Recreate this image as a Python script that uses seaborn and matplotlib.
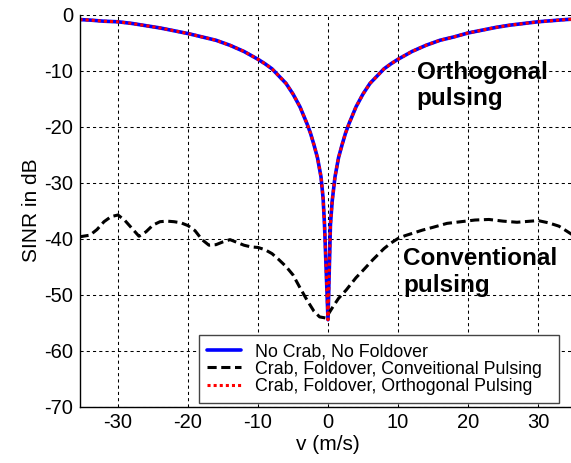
import matplotlib
matplotlib.use("Agg")
import matplotlib.pyplot as plt
import seaborn as sns
import pandas as pd

# ---- data ----
v_orth = [-35.5, -34, -32, -30, -28, -26, -24, -22, -20, -18, -16, -14, -12, -10, -9, -8, -7, -6, -5,
          -4, -3, -2.5, -2, -1.5, -1.0, -0.7, -0.5, 0, 0.35, 0.6, 1.0, 1.5, 2, 2.5, 3, 4, 5, 6, 7, 8, 9,
          10, 12, 14, 16, 18, 20, 22, 24, 26, 28, 30, 32, 34, 35.5]
sinr_orth = [-0.9, -1.0, -1.2, -1.3, -1.6, -2.0, -2.4, -2.9, -3.4, -4.0, -4.6, -5.5, -6.6, -8.0, -8.8,
             -9.7, -11.0, -12.3, -14.2, -16.5, -19.5, -21.2, -23.3, -25.6, -29.0, -32.8, -37.5, -54.5,
             -37.5, -33.3, -29.0, -25.6, -23.3, -21.2, -19.5, -16.5, -14.2, -12.3, -11.0, -9.7, -8.8,
             -8.0, -6.6, -5.5, -4.6, -4.0, -3.3, -2.8, -2.3, -1.9, -1.6, -1.3, -1.1, -0.9, -0.8]

v_conv = [-35.5, -34, -33, -32, -31, -30, -29, -28, -27, -26, -25, -24, -23, -22, -21, -20, -19, -18,
          -17, -16, -15, -14, -13, -12, -11, -10, -9, -8, -7, -6, -5, -4, -3, -2, -1.2, -0.3, 0.7, 1.5,
          2.6, 4, 5, 6.4, 8, 9, 10, 11, 12, 13.5, 15, 17, 19, 21, 23, 25, 27, 29, 30, 31.5, 33, 34.5, 35.5]
sinr_conv = [-39.7, -39.4, -38.4, -37.0, -36.1, -35.8, -36.8, -38.2, -39.6, -38.8, -37.6, -37.0, -36.9,
             -37.0, -37.2, -37.7, -38.6, -40.2, -41.2, -41.1, -40.6, -40.2, -40.7, -41.2, -41.5, -41.6,
             -42.0, -42.7, -43.8, -45.0, -46.5, -48.8, -51.0, -53.0, -54.0, -54.2, -52.2, -50.7, -49.2,
             -47.0, -45.7, -43.8, -41.8, -40.8, -40.0, -39.5, -39.1, -38.5, -38.0, -37.3, -37.0, -36.7,
             -36.6, -36.9, -37.1, -36.9, -36.8, -37.2, -37.8, -39.0, -39.8]

labels = ["No Crab, No Foldover",
          "Crab, Foldover, Conveitional Pulsing",
          "Crab, Foldover, Orthogonal Pulsing"]
x_ticks = [-30, -20, -10, 0, 10, 20, 30]
y_ticks = [0, -10, -20, -30, -40, -50, -60, -70]

sns.set_style("white")
plt.rcParams['font.family'] = ['Liberation Sans', 'DejaVu Sans']
plt.rcParams['axes.unicode_minus'] = False
plt.rcParams['text.color'] = 'black'
plt.rcParams['axes.labelcolor'] = 'black'

fig = plt.figure(figsize=(5.71, 4.63), dpi=100)
ax = fig.add_axes([79.5 / 571, 1 - 406.5 / 463, 497 / 571, 392 / 463])

df_o = pd.DataFrame({"v": v_orth, "s": sinr_orth})
df_c = pd.DataFrame({"v": v_conv, "s": sinr_conv})

sns.lineplot(data=df_o, x="v", y="s", color="#0000ff", linewidth=2.6, linestyle="-",
             sort=False, estimator=None, ax=ax, label=labels[0])
sns.lineplot(data=df_c, x="v", y="s", color="black", linewidth=2.2, linestyle=(0, (3, 1.5)),
             sort=False, estimator=None, ax=ax, label=labels[1])
sns.lineplot(data=df_o, x="v", y="s", color="#ff0000", linewidth=2.2, linestyle=(0, (1, 1)),
             sort=False, estimator=None, ax=ax, label=labels[2])

ax.set_xlim(-35.5, 35.5)
ax.set_ylim(-70, 0)
ax.set_xticks(x_ticks)
ax.set_yticks(y_ticks)
ax.grid(True, color="black", linewidth=0.75, linestyle=(0, (3, 3)))
ax.set_axisbelow(True)
for s in ["top", "right"]:
    ax.spines[s].set_visible(False)
for s in ["left", "bottom"]:
    ax.spines[s].set_color("black")
    ax.spines[s].set_linewidth(1.0)
ax.tick_params(direction="in", length=4, width=0.8, labelsize=14.5, colors="black")
ax.tick_params(axis="x", pad=5)
ax.tick_params(axis="y", pad=4.5)

ax.set_xlabel("v (m/s)", fontsize=15, labelpad=2)
ax.set_ylabel("SINR in dB", fontsize=15, labelpad=2.5)

ax.text(12.67, -11.57, "Orthogonal", fontsize=17.5, fontweight="bold", va="baseline", color="black")
ax.text(12.67, -16.16, "pulsing", fontsize=17.5, fontweight="bold", va="baseline", color="black")
ax.text(10.76, -44.7, "Conventional", fontsize=17.5, fontweight="bold", va="baseline", color="black")
ax.text(10.76, -49.6, "pulsing", fontsize=17.5, fontweight="bold", va="baseline", color="black")

x0, x1 = 199 / 571, 559.5 / 571
ytop = 1 - 335 / 463
leg = ax.legend(loc="upper left", bbox_to_anchor=(x0, ytop - 0.15, x1 - x0, 0.15),
                bbox_transform=fig.transFigure, mode="expand", fontsize=12.8, frameon=True,
                fancybox=False, framealpha=1, edgecolor="#444444", borderaxespad=0, borderpad=0.47,
                handlelength=1.91, handletextpad=0.76, labelspacing=0.02)
leg.get_frame().set_linewidth(1.0)
for t in leg.get_texts():
    t.set_color("black")

fig.savefig("out.png", dpi=100)
